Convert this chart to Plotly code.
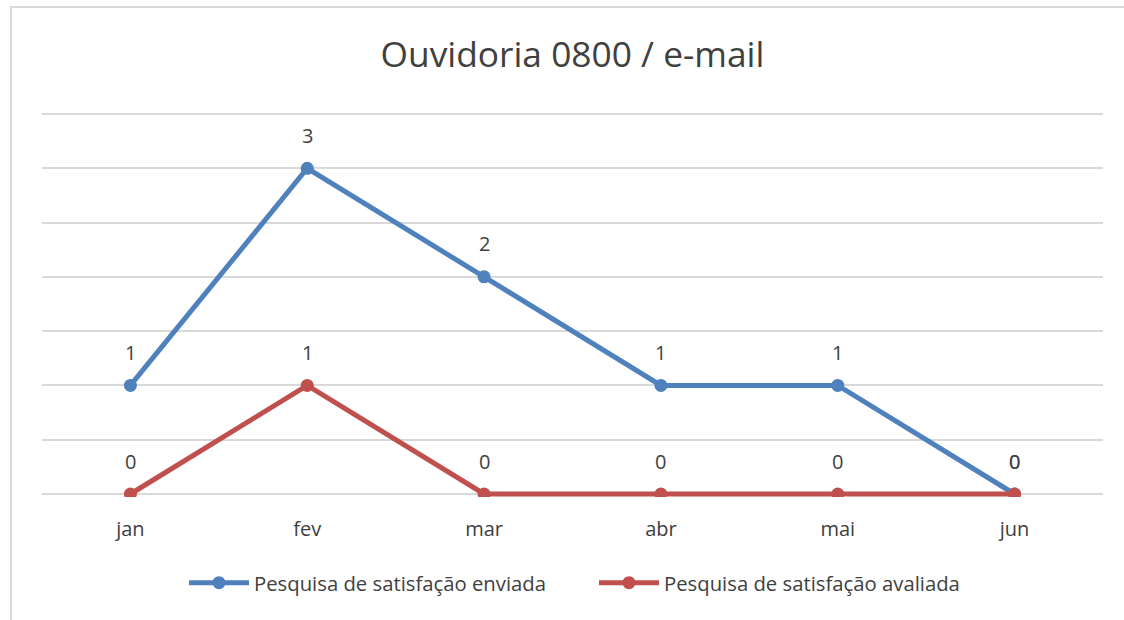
import plotly.graph_objects as go

months = ["jan", "fev", "mar", "abr", "mai", "jun"]
enviada = [1, 3, 2, 1, 1, 0]
avaliada = [0, 1, 0, 0, 0, 0]
series_names = ["Pesquisa de satisfação enviada", "Pesquisa de satisfação avaliada"]
title_text = "Ouvidoria 0800 / e-mail"

BLUE = "#4f81bd"
RED = "#c0504d"
FONT = "'Open Sans', sans-serif"

# reference plot area in pixels: y=0 at 494, y=3.5 at 114
PL, PR, PT, PB = 42, 1103, 114, 494
W, H = 1124, 620
PAD = 3  # extra px so that edge gridlines are kept
YMAX = 3.5
pxu = (PB - PT) / YMAX
ylo, yhi = -PAD / pxu, YMAX + PAD / pxu
mt, mb = PT - PAD, H - PB - PAD
ph = H - mt - mb

def ypaper(px):
    return (H - mb - px) / ph

fig = go.Figure()
for vals, name, color in [(enviada, series_names[0], BLUE), (avaliada, series_names[1], RED)]:
    fig.add_trace(go.Scatter(
        x=months, y=vals, name=name, mode="lines+markers",
        line=dict(color=color, width=5),
        marker=dict(color=color, size=13),
        hoverinfo="skip",
    ))

annotations = []
for vals in (enviada, avaliada):
    for m, v in zip(months, vals):
        annotations.append(dict(
            x=m, y=v, xref="x", yref="y", text=str(v), showarrow=False,
            yshift=33, font=dict(size=20, color="#404040", family=FONT),
        ))

fig.update_layout(
    width=W, height=H,
    paper_bgcolor="white", plot_bgcolor="white",
    margin=dict(l=PL, r=W - PR, t=mt, b=mb),
    title=dict(text=title_text, xref="paper", x=0.5, xanchor="center",
               y=1 - 55 / H, yanchor="middle",
               font=dict(size=35.3, color="#404040", family=FONT)),
    xaxis=dict(showgrid=False, zeroline=False, showline=False, ticks="",
               range=[-0.5, len(months) - 0.5],
               ticklabelstandoff=21 - PAD,
               tickfont=dict(size=20, color="#404040", family=FONT),
               fixedrange=True),
    yaxis=dict(range=[ylo, yhi], tick0=0, dtick=0.5, showgrid=True, gridcolor="#d9d9d9",
               gridwidth=2, zeroline=False, showline=False, showticklabels=False,
               ticks="", fixedrange=True),
    showlegend=True,
    legend=dict(orientation="h", x=(184 - PL) / (PR - PL), xanchor="left", y=ypaper(583),
                yanchor="middle", font=dict(size=20.3, color="#404040", family=FONT),
                itemwidth=60, entrywidth=335, entrywidthmode="pixels", tracegroupgap=0),
    annotations=annotations,
    shapes=[dict(type="rect", xref="paper", yref="paper",
                 x0=(11 - PL) / (PR - PL), x1=1.5, y0=-2, y1=ypaper(7),
                 line=dict(color="#d9d9d9", width=2), fillcolor="rgba(0,0,0,0)",
                 layer="below")],
)

fig.write_html("out.html", config={"displayModeBar": False},
               post_script="document.body.style.margin='0';document.body.style.overflow='hidden';")
